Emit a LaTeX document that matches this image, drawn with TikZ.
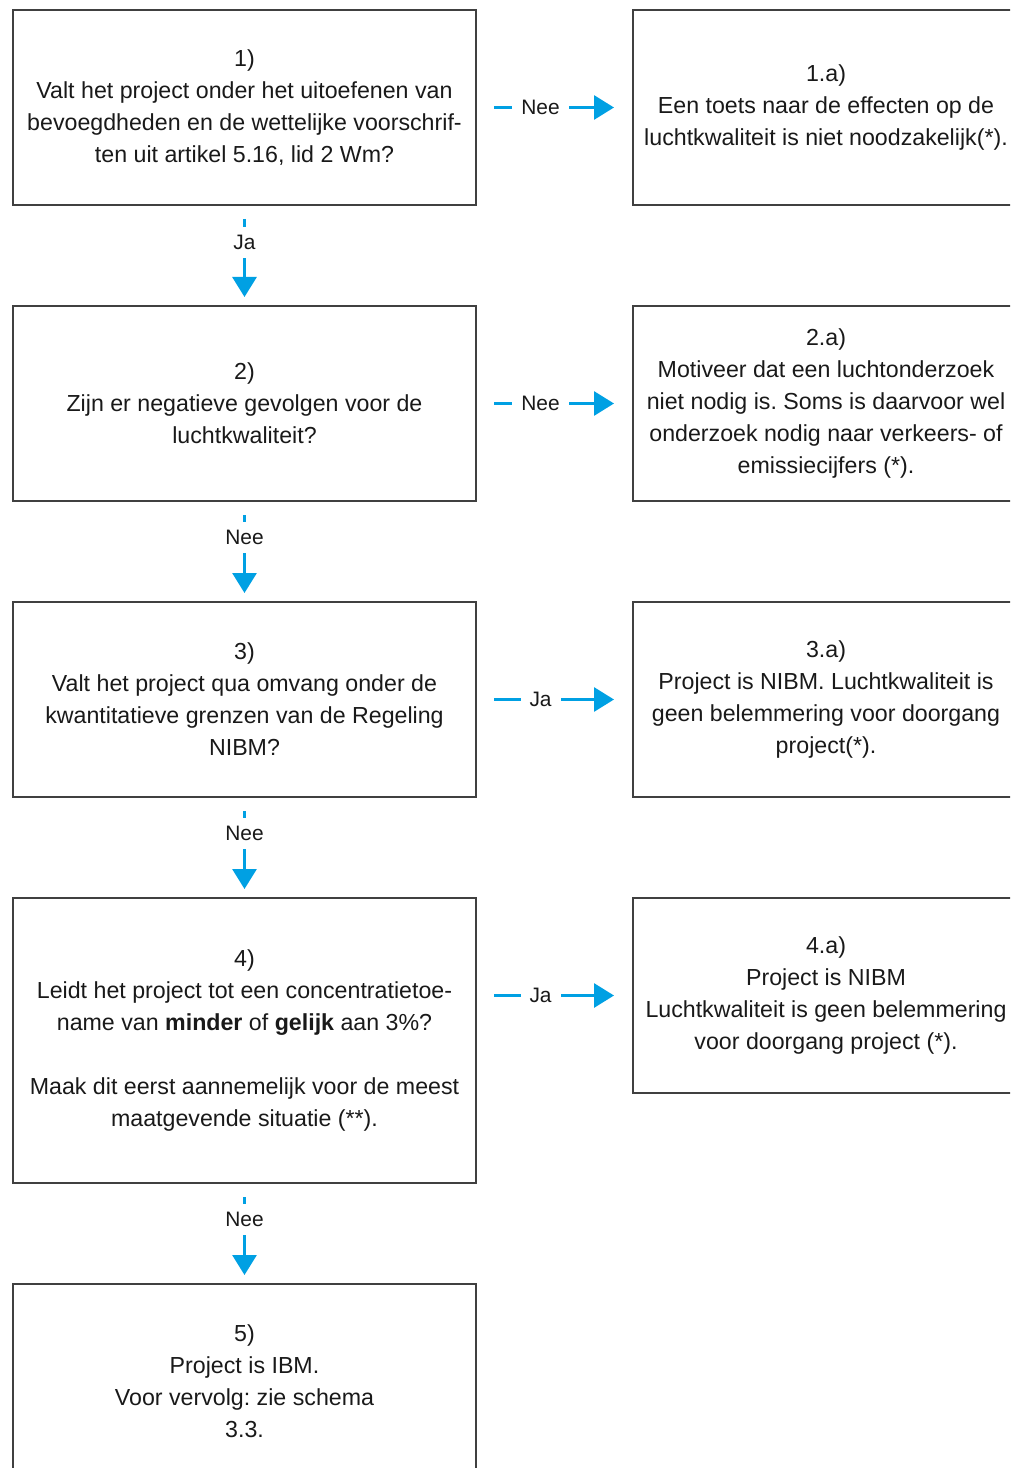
\documentclass[tikz,border=0pt]{standalone}
\usepackage{fontspec}
\setmainfont{Liberation Sans}
\usetikzlibrary{arrows.meta,positioning}
\frenchspacing
\definecolor{flowblue}{RGB}{0,160,227}
\definecolor{boxgray}{RGB}{64,64,64}
\tikzset{
    qbox/.style={rectangle, draw=boxgray, line width=0.04cm, minimum width=9.26cm, minimum height=3.9cm, align=center, font=\fontsize{13.2}{18.2}\selectfont, text=black!90},
    abox/.style={qbox, minimum width=7.72cm},
    flow/.style={draw=flowblue, line width=0.06cm, -{Triangle[length=0.4cm, width=0.48cm]}},
    hflow/.style={flow, shorten <=0.34cm, shorten >=0.36cm},
    vflow/.style={flow, shorten <=0.26cm, shorten >=0.16cm},
    lbl/.style={fill=white, inner xsep=0.18cm, inner ysep=0.16cm, font=\fontsize{11.9}{13}\selectfont, text=black!90},
}
\begin{document}
\begin{tikzpicture}[node distance=1.98cm and 3.10cm]
    \useasboundingbox (0,0) rectangle (20.2,-29.36);
    \clip (0,0) rectangle (20.2,-29.36);
    % left column: questions
    \node[qbox, anchor=north west] (q1) at (0.24,-0.18) {1)\\Valt het project onder het uitoefenen van\\bevoegdheden en de wettelijke voorschrif-\\ten uit artikel 5.16, lid 2 Wm?};
    \node[qbox, below=of q1] (q2) {2)\\Zijn er negatieve gevolgen voor de\\luchtkwaliteit?};
    \node[qbox, below=of q2] (q3) {3)\\Valt het project qua omvang onder de\\kwantitatieve grenzen van de Regeling\\NIBM?};
    \node[qbox, below=of q3, minimum height=5.7cm] (q4) {4)\\Leidt het project tot een concentratietoe-\\name van \textbf{minder} of \textbf{gelijk} aan 3\%?\\[18.2pt]Maak dit eerst aannemelijk voor de meest\\maatgevende situatie (**).};
    \node[qbox, below=of q4] (q5) {5)\\Project is IBM.\\Voor vervolg: zie schema\\3.3.};
    % right column: outcomes
    \node[abox, right=of q1] (r1) {1.a)\\Een toets naar de effecten op de\\luchtkwaliteit is niet noodzakelijk(*).};
    \node[abox, below=of r1] (r2) {2.a)\\Motiveer dat een luchtonderzoek\\niet nodig is. Soms is daarvoor wel\\onderzoek nodig naar verkeers- of\\emissiecijfers (*).};
    \node[abox, below=of r2] (r3) {3.a)\\Project is NIBM. Luchtkwaliteit is\\geen belemmering voor doorgang\\project(*).};
    \node[abox, below=of r3] (r4) {4.a)\\Project is NIBM\\Luchtkwaliteit is geen belemmering\\voor doorgang project (*).};

    \draw[hflow] (q1) -- node[lbl, pos=0.41] {Nee} (r1);
    \draw[hflow] (q2) -- node[lbl, pos=0.41] {Nee} (r2);
    \draw[hflow] (q3) -- node[lbl, pos=0.41] {Ja} (r3);
    \draw[hflow] (q4.east |- r4) -- node[lbl, pos=0.41] {Ja} (r4);

    \draw[vflow] (q1) -- node[lbl, pos=0.37] {Ja} (q2);
    \draw[vflow] (q2) -- node[lbl, pos=0.36] {Nee} (q3);
    \draw[vflow] (q3) -- node[lbl, pos=0.36] {Nee} (q4);
    \draw[vflow] (q4) -- node[lbl, pos=0.36] {Nee} (q5);
\end{tikzpicture}
\end{document}
